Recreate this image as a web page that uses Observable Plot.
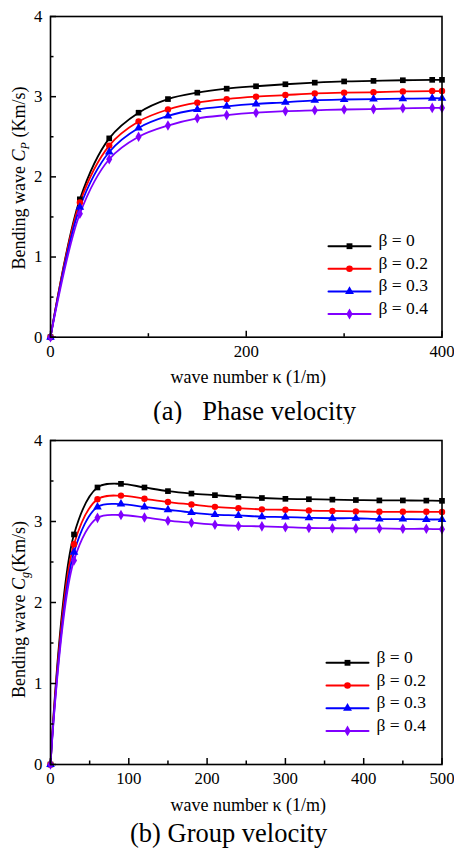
<!DOCTYPE html>
<html><head><meta charset="utf-8">
<script src="https://cdn.jsdelivr.net/npm/d3@7"></script>
<script src="https://cdn.jsdelivr.net/npm/@observablehq/plot@0.6"></script>
<style>
body{margin:0;background:#fff;width:454px;height:848px;position:relative;overflow:hidden;font-family:"Liberation Serif","Times New Roman",serif;}
#pa{position:absolute;left:0;top:0;}
#pb{position:absolute;left:0;top:424px;}
.cap{position:absolute;font-size:26.5px;line-height:26px;white-space:pre;color:#000;}
</style></head><body>
<div id="pa"></div>
<div class="cap" style="left:153px;top:398px;">(a)   Phase velocity</div>
<div id="pb"></div>
<div class="cap" style="left:130px;top:820px;">(b) Group velocity</div>
<script>
const betaLabels = ["β = 0", "β = 0.2", "β = 0.3", "β = 0.4"];
const colors = ["#000000", "#ff0000", "#0000ff", "#8000ff"];
const symbols = ["square", "circle", "triangle", "diamond"];

// (a) Phase velocity
const kPhase = [0, 30, 60, 90, 120, 150, 180, 210, 240, 270, 300, 330, 360, 390, 400];
const cpBeta0  = [0, 1.72, 2.48, 2.80, 2.97, 3.05, 3.10, 3.13, 3.155, 3.175, 3.19, 3.197, 3.205, 3.21, 3.21];
const cpBeta02 = [0, 1.68, 2.39, 2.69, 2.84, 2.925, 2.97, 3.00, 3.02, 3.04, 3.05, 3.055, 3.065, 3.07, 3.07];
const cpBeta03 = [0, 1.62, 2.31, 2.61, 2.76, 2.84, 2.88, 2.91, 2.93, 2.955, 2.965, 2.97, 2.975, 2.98, 2.98];
const cpBeta04 = [0, 1.54, 2.22, 2.50, 2.64, 2.73, 2.77, 2.80, 2.82, 2.83, 2.84, 2.845, 2.855, 2.86, 2.86];
const phaseXMajor = [0, 200, 400];
const phaseXMinor = [100, 300];

// (b) Group velocity
const kGroup = [0, 30, 60, 90, 120, 150, 180, 210, 240, 270, 300, 330, 360, 390, 420, 450, 480, 500];
const cgBeta0  = [0, 2.84, 3.42, 3.465, 3.42, 3.375, 3.345, 3.325, 3.305, 3.29, 3.28, 3.275, 3.27, 3.265, 3.26, 3.26, 3.258, 3.255];
const cgBeta02 = [0, 2.72, 3.275, 3.32, 3.28, 3.24, 3.21, 3.18, 3.165, 3.15, 3.145, 3.135, 3.13, 3.125, 3.12, 3.12, 3.12, 3.118];
const cgBeta03 = [0, 2.62, 3.18, 3.215, 3.18, 3.145, 3.11, 3.085, 3.075, 3.06, 3.055, 3.045, 3.04, 3.04, 3.03, 3.03, 3.025, 3.025];
const cgBeta04 = [0, 2.52, 3.045, 3.08, 3.05, 3.01, 2.985, 2.96, 2.945, 2.94, 2.93, 2.92, 2.917, 2.915, 2.915, 2.91, 2.91, 2.905];
const groupXMajor = [0, 100, 200, 300, 400, 500];
const groupXMinor = [50, 150, 250, 350, 450];

const yMajor = [0, 1, 2, 3, 4];
const yMinor = [0.5, 1.5, 2.5, 3.5];

function toRows(k, seriesList) {
  const rows = [];
  seriesList.forEach((vals, i) => vals.forEach((v, j) => rows.push({k: k[j], v, beta: betaLabels[i]})));
  return rows;
}

function makePanel(opts) {
  const data = toRows(opts.k, opts.series);
  const font = "Liberation Serif, Times New Roman, serif";
  const legendLine = {draw(ctx, l) { ctx.moveTo(0, 0); ctx.lineTo(0, -l); }};
  const legendMarks = betaLabels.flatMap((lab, i) => {
    const dy = opts.legendDy0 + opts.legendStep * i;
    return [
      Plot.vector([lab], {frameAnchor: "bottom-right", dx: opts.legendDx, dy, length: 42, rotate: 90, anchor: "start",
        shape: legendLine, stroke: d => d, strokeWidth: 2}),
      Plot.dot([lab], {frameAnchor: "bottom-right", dx: opts.legendDx + 21, dy, fill: d => d, symbol: d => d, r: 3.3}),
      Plot.text([lab], {frameAnchor: "bottom-right", dx: opts.legendDx + 50, dy, text: d => d, textAnchor: "start",
        fontSize: 17.5, fill: "black"})
    ];
  });
  const chart = Plot.plot({
    width: 454, height: opts.height,
    marginLeft: 50, marginRight: 12.5, marginTop: 16, marginBottom: opts.marginBottom,
    style: {fontFamily: font, fontSize: "16.8px", background: "white", color: "black", overflow: "visible"},
    x: {domain: opts.xDomain},
    y: {domain: [0, 4]},
    color: {domain: betaLabels, range: colors},
    symbol: {domain: betaLabels, range: symbols},
    marks: [
      Plot.line(data, {x: "k", y: "v", z: "beta", stroke: "beta", curve: "catmull-rom", strokeWidth: 1.8}),
      Plot.dot(data, {x: "k", y: "v", fill: "beta", symbol: "beta", r: 3.2}),
      Plot.frame({stroke: "black", strokeWidth: 1.6}),
      Plot.axisX({ticks: opts.xMajor, tickSize: 0, tickPadding: 8, label: null, tickFormat: d => String(d), fill: "black"}),
      Plot.axisX({ticks: opts.xMajor, tickSize: -6, text: null, label: null, strokeWidth: 1.5}),
      Plot.axisX({ticks: opts.xMinor, tickSize: -3.5, text: null, label: null, strokeWidth: 1.5}),
      Plot.axisY({ticks: yMajor, tickSize: 0, tickPadding: 8, label: null, tickFormat: d => String(d), fill: "black"}),
      Plot.axisY({ticks: yMajor, tickSize: -6, text: null, label: null, strokeWidth: 1.5}),
      Plot.axisY({ticks: yMinor, tickSize: -3.5, text: null, label: null, strokeWidth: 1.5}),
      Plot.text(["wave number κ (1/m)"], {frameAnchor: "bottom", dy: opts.xLabelDy, dx: 2, text: d => d,
        lineAnchor: "middle", fontSize: 18, fill: "black"}),
      ...legendMarks
    ]
  });
  // rotated y-axis label with italic symbol and subscript
  const svg = d3.select(chart);
  const t = svg.append("text")
    .attr("transform", `translate(19,${opts.yLabelY}) rotate(-90)`)
    .attr("text-anchor", "middle")
    .attr("dy", "0.35em")
    .attr("font-family", font)
    .attr("font-size", 18)
    .attr("fill", "black");
  t.append("tspan").text("Bending wave ");
  t.append("tspan").attr("font-style", "italic").text("C");
  t.append("tspan").attr("font-style", "italic").attr("font-size", 12).attr("dy", 4).text(opts.sub);
  t.append("tspan").attr("dy", -4).text(opts.afterSub);
  return chart;
}

document.getElementById("pa").appendChild(makePanel({
  k: kPhase, series: [cpBeta0, cpBeta02, cpBeta03, cpBeta04],
  xDomain: [0, 400], xMajor: phaseXMajor, xMinor: phaseXMinor,
  height: 392, marginBottom: 55.3, xLabelDy: 40,
  legendDx: -113.5, legendDy0: -91, legendStep: 22.6,
  yLabelY: 178, sub: "P", afterSub: " (Km/s)"
}));

document.getElementById("pb").appendChild(makePanel({
  k: kGroup, series: [cgBeta0, cgBeta02, cgBeta03, cgBeta04],
  xDomain: [0, 500], xMajor: groupXMajor, xMinor: groupXMinor,
  height: 400, marginBottom: 60, xLabelDy: 41,
  legendDx: -115.5, legendDy0: -101.7, legendStep: 22.7,
  yLabelY: 185.5, sub: "g", afterSub: "(Km/s)"
}));
</script>
</body></html>
